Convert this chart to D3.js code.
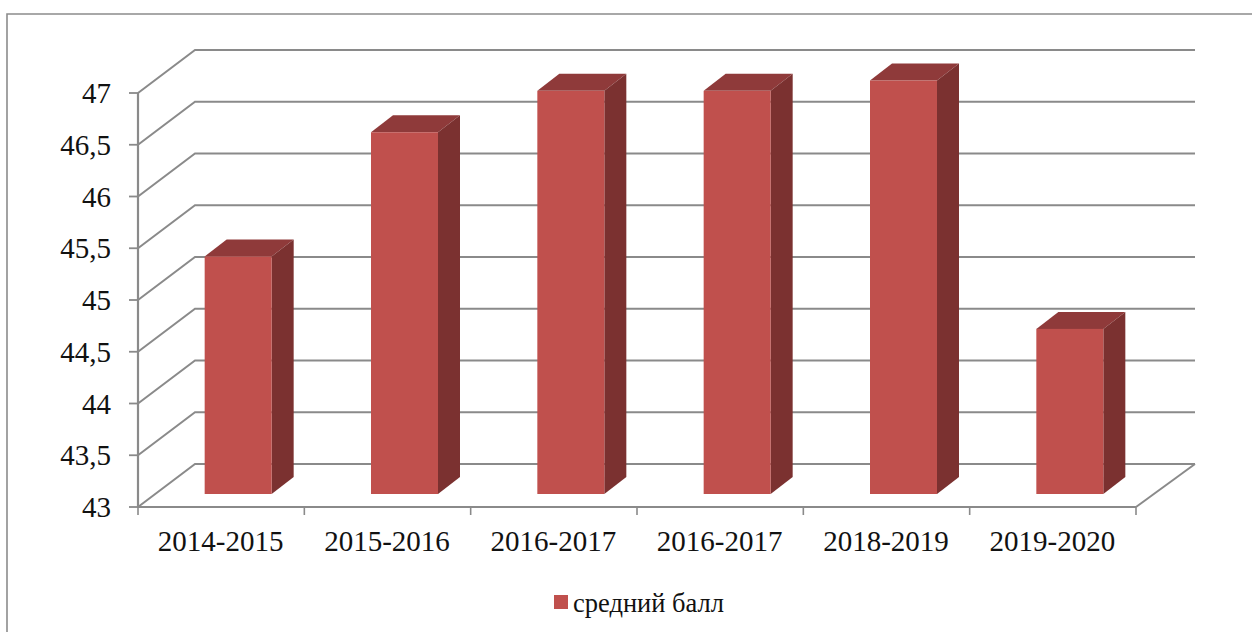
<!DOCTYPE html>
<html><head><meta charset="utf-8">
<script src="https://cdn.jsdelivr.net/npm/d3@7/dist/d3.min.js"></script>
<style>html,body{margin:0;padding:0;background:#fff}svg{display:block}text{font-family:"Liberation Serif",serif;fill:#111}</style>
</head><body><svg id="c" width="1252" height="632"></svg>
<script>
const categories=["2014-2015","2015-2016","2016-2017","2016-2017","2018-2019","2019-2020"];
const seriesName="средний балл";
const values=[45.3,46.5,46.9,46.9,47,44.6];
const yTicks=[43,43.5,44,44.5,45,45.5,46,46.5,47];
const svg=d3.select("#c");
const W=1252,H=632;
const x0=138,x1=1136,yB=507,yT=93,DX=57,DY=-43;
const barDX=22,barDY=-17,baseDX=17,baseDY=-13;
const y=d3.scaleLinear().domain([43,47]).range([yB,yT]);
const x=d3.scaleBand().domain(d3.range(categories.length)).range([x0,x1]).paddingInner(0).paddingOuter(0);
const grey="#8a8a8a";
svg.append("path").attr("d",`M${W},14H7V${H}`).attr("fill","none").attr("stroke","#8c8c8c").attr("stroke-width",1.6);
const g=svg.append("g");
yTicks.forEach(t=>{
  const yy=y(t);
  g.append("path").attr("d",`M${x0},${yy}L${x0+DX},${yy+DY}H${x1+DX+2}`).attr("fill","none").attr("stroke",grey).attr("stroke-width",2);
});
g.append("path").attr("d",`M${x1},${yB}L${x1+DX+2},${yB+DY}`).attr("fill","none").attr("stroke",grey).attr("stroke-width",2);
g.append("path").attr("d",`M${x0},${yT}V${yB}H${x1}`).attr("fill","none").attr("stroke",grey).attr("stroke-width",2.2);
yTicks.forEach(t=>{
  g.append("line").attr("x1",x0-9).attr("x2",x0).attr("y1",y(t)).attr("y2",y(t)).attr("stroke",grey).attr("stroke-width",1.8);
  g.append("text").attr("x",111).attr("y",y(t)+10).attr("text-anchor","end").attr("font-size",29).text(String(t).replace(".",","));
});
d3.range(categories.length+1).forEach(i=>{
  const xx=i<categories.length?x(i):x1;
  g.append("line").attr("x1",xx).attr("x2",xx).attr("y1",yB).attr("y2",yB+8).attr("stroke",grey).attr("stroke-width",1.6);
});
const bw=67;
const bars=g.selectAll("g.bar").data(values).join("g").attr("class","bar");
bars.each(function(v,i){
  const s=d3.select(this);
  const l=x(i)+baseDX+(x.bandwidth()-bw)/2, r=l+bw;
  const top=y(v)+baseDY+0.5, bot=yB+baseDY;
  s.append("path").attr("d",`M${l},${top}L${l+barDX},${top+barDY}H${r+barDX}L${r},${top}Z`).attr("fill","#8f3a3a");
  s.append("path").attr("d",`M${r},${top}L${r+barDX},${top+barDY}V${bot+barDY}L${r},${bot}Z`).attr("fill","#7b3130");
  s.append("rect").attr("x",l).attr("y",top).attr("width",bw).attr("height",bot-top).attr("fill","#c0504d");
  g.append("text").attr("x",x(i)+x.bandwidth()/2-0.5).attr("y",551).attr("text-anchor","middle").attr("font-size",29).text(categories[i]);
});
svg.append("rect").attr("x",554).attr("y",595).attr("width",14).attr("height",14).attr("fill","#c0504d");
svg.append("text").attr("x",573).attr("y",612).attr("font-size",26.5).text(seriesName);
</script></body></html>
